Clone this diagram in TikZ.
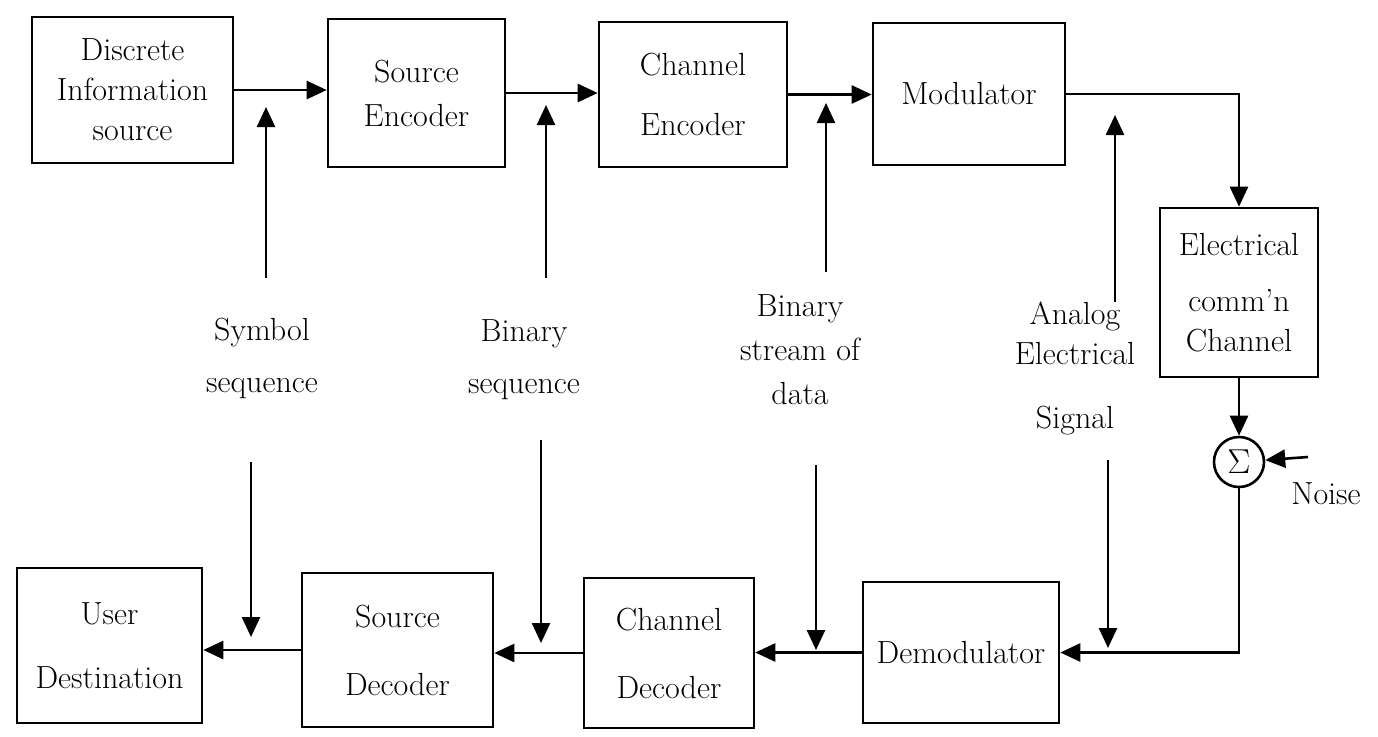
\documentclass[tikz,border=0pt]{standalone}
\usetikzlibrary{arrows.meta}
\begin{document}
\begin{tikzpicture}[x=0.5pt,y=-0.5pt,
  line width=1.3pt,
  blk/.style={draw, line width=1.3pt, inner sep=0pt, align=center, font=\fontsize{16}{20}\selectfont},
  lbl/.style={align=center, font=\fontsize{16}{20}\selectfont, inner sep=0pt},
  arr/.style={-{Triangle[length=10pt,width=9pt]}, line width=1.3pt}]
\useasboundingbox[fill=white] (0,0) rectangle (1378,736);

% top row
\node[blk, minimum width=100.5pt, minimum height=73pt] (b1) at (132.5,90) {Discrete\\Information\\source};
\node[blk, minimum width=88.5pt, minimum height=74pt] (se) at (416.5,93) {Source\\[2pt]Encoder};
\node[blk, minimum width=94pt, minimum height=72.5pt] (ce) at (693,94.5) {Channel\\[10pt]Encoder};
\node[blk, minimum width=96pt, minimum height=71pt] (mod) at (969,94) {Modulator};
\node[blk, minimum width=79pt, minimum height=84.5pt] (elec) at (1239,292.5) {Electrical\\[8pt]comm'n\\Channel};
\node[draw, circle, line width=1.3pt, minimum size=25pt, inner sep=0pt, font=\fontsize{16}{20}\selectfont] (sum) at (1239,462) {$\Sigma$};
\node[lbl] (noise) at (1326,494) {Noise};
\coordinate (nz) at (1308,457);

% bottom row
\node[blk, minimum width=92.5pt, minimum height=77.5pt] (ud) at (109.5,645.5) {User\\[12pt]Destination};
\node[blk, minimum width=95.5pt, minimum height=77pt] (sd) at (397.5,650) {Source\\[14pt]Decoder};
\node[blk, minimum width=85pt, minimum height=75pt] (cd) at (669,653) {Channel\\[14pt]Decoder};
\node[blk, minimum width=98pt, minimum height=70.5pt] (dm) at (961,652.5) {Demodulator};

% middle labels
\node[lbl] (l1) at (262,358) {Symbol\\[6pt]sequence};
\node[lbl] (l2) at (524,360) {Binary\\[6pt]sequence};
\node[lbl] (l3) at (800,350) {Binary\\[2pt]stream of\\[2pt]data};
\node[lbl] (l4) at (1075,368) {Analog\\Electrical\\[12pt]Signal};

% label arrow ends
\coordinate (a1s) at (266,278); \coordinate (a1e) at (266,107);
\coordinate (a2s) at (546,278); \coordinate (a2e) at (546,105);
\coordinate (a3s) at (826,272); \coordinate (a3e) at (826,103);
\coordinate (a4s) at (1115,302); \coordinate (a4e) at (1115,115);
\coordinate (d1s) at (251,462); \coordinate (d1e) at (251,637);
\coordinate (d2s) at (541,440); \coordinate (d2e) at (541,643);
\coordinate (d3s) at (816,465); \coordinate (d3e) at (816,650);
\coordinate (d4s) at (1108,460); \coordinate (d4e) at (1108,648);

% main flow
\draw[arr] (b1.east) -- (b1.east -| se.west);
\draw[arr] (se.east) -- (se.east -| ce.west);
\draw[arr] (ce.east) -- (ce.east -| mod.west);
\draw[arr] (mod.east) -- (mod.east -| elec.north) -- (elec.north);
\draw[arr] (elec.south) -- (sum.north);
\draw[arr] (nz) -- (sum);
\draw[arr] (sum.south) -- (sum.south |- dm.east) -- (dm.east);
\draw[arr] (dm.west) -- (dm.west -| cd.east);
\draw[arr] (cd.west) -- (cd.west -| sd.east);
\draw[arr] (sd.west) -- (sd.west -| ud.east);

% label arrows
\draw[arr] (a1s) -- (a1e);
\draw[arr] (a2s) -- (a2e);
\draw[arr] (a3s) -- (a3e);
\draw[arr] (a4s) -- (a4e);
\draw[arr] (d1s) -- (d1e);
\draw[arr] (d2s) -- (d2e);
\draw[arr] (d3s) -- (d3e);
\draw[arr] (d4s) -- (d4e);
\end{tikzpicture}
\end{document}
